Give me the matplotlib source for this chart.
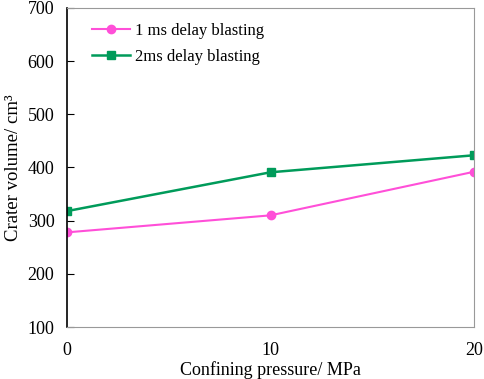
import matplotlib
matplotlib.use("Agg")
import matplotlib.pyplot as plt

pressure = [0, 10, 20]
vol_1ms = [278, 310, 392]
vol_2ms = [318, 391, 423]
labels = ["1 ms delay blasting", "2ms delay blasting"]

plt.rcParams['font.family'] = ['Liberation Serif', 'DejaVu Serif']

fig = plt.figure(figsize=(4.84, 3.79), dpi=100)
ax = fig.add_axes([67 / 484, 1 - 327 / 379, 407 / 484, 319 / 379])

ax.plot(pressure, vol_1ms, color='#ff4fd8', marker='o', markersize=6, lw=1.5, label=labels[0])
ax.plot(pressure, vol_2ms, color='#009b5a', marker='s', markersize=6, lw=1.8, label=labels[1])

ax.set_xlim(0, 20)
ax.set_ylim(100, 700)
ax.set_xticks(pressure)
ax.set_yticks(range(100, 800, 100))
ax.tick_params(axis='x', length=0, labelsize=13, pad=11)
ax.tick_params(axis='y', direction='in', length=5, labelsize=13, pad=9)

for s in ['top', 'right', 'bottom']:
    ax.spines[s].set_color('#999999')
ax.spines['left'].set_color('black')
ax.spines['left'].set_linewidth(1.2)

ax.set_xlabel("Confining pressure/ MPa", fontsize=13, labelpad=1)
ax.set_ylabel("Crater volume/ cm³", fontsize=13.5, labelpad=4)

ax.legend(loc='upper left', frameon=False, fontsize=12, handlelength=2.3,
          handletextpad=0.3, borderpad=0, borderaxespad=0,
          bbox_to_anchor=(0.061, 0.952), labelspacing=0.6)

fig.savefig("out.png", dpi=100)
